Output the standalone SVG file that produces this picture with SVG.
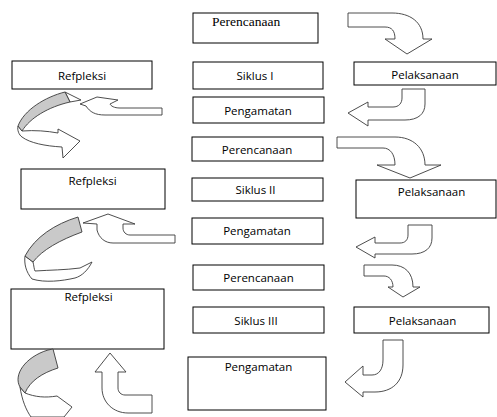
<svg xmlns="http://www.w3.org/2000/svg" width="497" height="417" viewBox="0 0 497 417">
<style>
.box{fill:#fff;stroke:#000;stroke-width:1}
.lbl{font-family:"Open Sans","Noto Sans",sans-serif;font-size:11.5px;fill:#000;text-anchor:middle}
.ser{font-family:"Liberation Serif","Times New Roman",serif;font-size:13.5px;fill:#000}
.arr{fill:#fff;stroke:#3a3a3a;stroke-width:0.9;stroke-linejoin:round}
.gr{fill:#c9c9c9;stroke:#3a3a3a;stroke-width:0.9;stroke-linejoin:round}
</style>
<rect width="497" height="417" fill="#fff"/>
<g id="perencanaan1"><rect class="box" x="193" y="13" width="125" height="30"/><text class="ser" x="212" y="26">Perencanaan</text></g>
<g id="siklus1"><rect class="box" x="193" y="62" width="130" height="27"/><text class="lbl" x="255" y="80">Siklus I</text></g>
<g id="pengamatan1"><rect class="box" x="193" y="97" width="131" height="26"/><text class="lbl" x="258" y="114.5">Pengamatan</text></g>
<g id="pelaksanaan1"><rect class="box" x="354" y="62" width="142" height="23"/><text class="lbl" x="425" y="78.5">Pelaksanaan</text></g>
<g id="refpleksi1"><rect class="box" x="12" y="61" width="140" height="28"/><text class="lbl" x="82" y="80">Refpleksi</text></g>

<g id="perencanaan2"><rect class="box" x="192" y="137" width="131" height="24"/><text class="lbl" x="257" y="153.5">Perencanaan</text></g>
<g id="siklus2"><rect class="box" x="192" y="178" width="131" height="23"/><text class="lbl" x="255.5" y="193.5">Siklus II</text></g>
<g id="pengamatan2"><rect class="box" x="192" y="218" width="131" height="26"/><text class="lbl" x="257" y="235">Pengamatan</text></g>
<g id="pelaksanaan2"><rect class="box" x="356" y="180" width="140" height="38"/><text class="lbl" x="431.5" y="195.5">Pelaksanaan</text></g>
<g id="refpleksi2"><rect class="box" x="21" y="169" width="144" height="40"/><text class="lbl" x="92.5" y="184.5">Refpleksi</text></g>

<g id="perencanaan3"><rect class="box" x="193" y="265" width="131" height="25"/><text class="lbl" x="258.5" y="282">Perencanaan</text></g>
<g id="siklus3"><rect class="box" x="193" y="307" width="131" height="26"/><text class="lbl" x="256" y="324.5">Siklus III</text></g>
<g id="pengamatan3"><rect class="box" x="188" y="357" width="138" height="53"/><text class="lbl" x="258.5" y="370.5">Pengamatan</text></g>
<g id="pelaksanaan3"><rect class="box" x="354" y="307" width="135" height="26"/><text class="lbl" x="422.5" y="324.5">Pelaksanaan</text></g>
<g id="refpleksi3"><rect class="box" x="11" y="289" width="153" height="60"/><text class="lbl" x="88.5" y="300.5">Refpleksi</text></g>

<g id="connectors">
<path class="arr" d="M348,13 L392,13 C410,13 423,22 423,39 L432,39 L407,54 L385,39 L395,39 C395,31 392,27 385,27 L348,27 Z"/>
<path class="arr" d="M402,89 L425,89 L425,104 C425,114 418,120 405,120 L368,120 L368,126 L348,113 L368,102 L368,107 L393,107 C399,107 402,103 402,98 Z"/>
<path class="arr" d="M337,137 L395,137 C413,137 425,148 425,165 L441,165 L410,178 L377,165 L395,165 C395,154 390,148 383,148 L337,148 Z"/>
<path class="arr" d="M408,225 L432,225 L432,238 C432,248 425,254 412,254 L375,254 L375,258 L356,247 L375,237 L375,243 L400,243 C405,243 408,240 408,235 Z"/>
<path class="arr" d="M364,265 L392,265 C405,265 413,273 413,287 L420,287 L403,297 L388,287 L393,287 C393,280 389,276 384,276 L364,276 Z"/>
<path class="arr" d="M383,340 L403,340 L403,365 C403,382 392,392 375,392 L363,392 L363,397 L345,382 L363,366 L363,375 L372,375 C379,375 383,369 383,360 Z"/>

<path class="arr" d="M162,108 L120,108 C114,108 111,106 110,104 L118,100 L97,97 L80,104 L86,106 C90,112 95,115 105,115 L162,115 Z"/>
<path class="arr" d="M65,92 L81,100 L70,102 Z"/>
<path class="arr" d="M22,131 C35,130 47,131 58,133 L58,129 L80,141 L63,158 L62,147 C45,146 30,143 22,137 C19,135 17,130 18,126 Z"/>
<path class="gr" d="M65,92 L70,102 C48,107 30,118 22,131 L18,126 C24,110 45,97 65,92 Z"/>

<path class="arr" d="M175,235 L130,235 C126,235 123,232 123,228 L123,224 L135,224 L108,214 L83,223 L97,224 L97,230 C99,238 105,243 113,243 L175,243 Z"/>
<path class="arr" d="M25,256 L33,262 C34,266 34,269 35,271 C50,270 65,270 80,268 L92,262 C88,270 82,276 75,278 C62,281 45,283 32,279 C26,272 24,264 25,256 Z"/>
<path class="gr" d="M78,217 L82,232 C60,240 42,250 33,262 L25,256 C35,237 55,224 78,217 Z"/>

<path class="arr" d="M25,393 C35,397 45,398 57,396 L72,407 L64,417 L31,417 C26,410 22,400 20,387 Z"/>
<path class="gr" d="M48,350 L53,349 L58,368 C42,373 30,381 25,393 L20,387 C13,375 25,357 48,350 Z"/>
<path class="arr" d="M110,353 L126,372 L118,372 L118,388 C118,392 121,395 125,395 L152,395 L152,413 L128,413 C113,413 102,402 102,388 L102,372 L95,372 Z"/>
</g>
</svg>
